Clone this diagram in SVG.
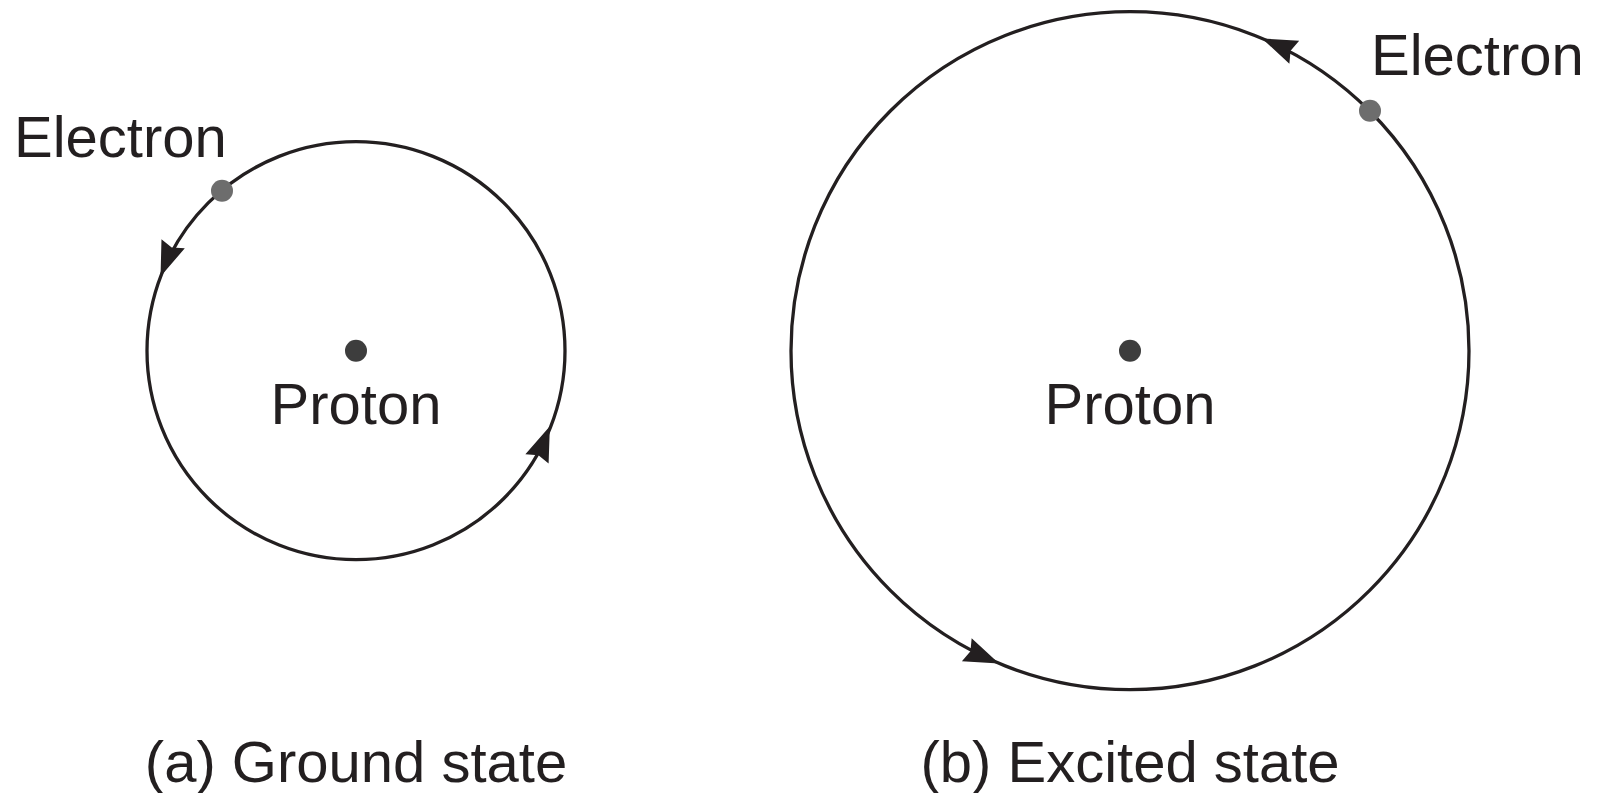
<svg xmlns="http://www.w3.org/2000/svg" xmlns:xlink="http://www.w3.org/1999/xlink" width="1598" height="793" viewBox="0 0 1598 793">
<style>
.orbit{fill:none;stroke:#231f20;stroke-width:3.3}
.lbl{font-family:"Liberation Sans",Arial,sans-serif;font-size:58px;fill:#231f20}
.mid{text-anchor:middle}
.proton{fill:#3d3d3d}
.electron{fill:#6d6d6d}
.arrow{fill:#231f20}
</style>
<defs>
<path id="ah" d="M1,0 L-34,-12.5 L-30,0 L-34,12.5 Z"/>
</defs>
<rect width="1598" height="793" fill="#ffffff"/>
<g id="ground">
<circle class="orbit" cx="356" cy="350.7" r="209"/>
<circle class="proton" cx="356" cy="350.7" r="11"/>
<text class="lbl mid" x="356" y="424">Proton</text>
<circle class="electron" cx="222" cy="190.7" r="11"/>
<text class="lbl" x="14" y="157">Electron</text>
<text class="lbl mid" x="356" y="782">(a) Ground state</text>
</g>
<g id="excited">
<circle class="orbit" cx="1130" cy="350.7" r="339"/>
<circle class="proton" cx="1130" cy="350.7" r="11"/>
<text class="lbl mid" x="1130" y="424">Proton</text>
<circle class="electron" cx="1370" cy="110.7" r="11"/>
<text class="lbl" x="1371" y="75">Electron</text>
<text class="lbl mid" x="1130" y="782">(b) Excited state</text>
</g>
<g id="connectors" class="arrow">
<use xlink:href="#ah" transform="translate(160.9,275.5) rotate(111.1)"/>
<use xlink:href="#ah" transform="translate(549.5,427.3) rotate(-68.4)"/>
<use xlink:href="#ah" transform="translate(1263,38.9) rotate(203.1)"/>
<use xlink:href="#ah" transform="translate(998.1,663) rotate(22.9)"/>
</g>
</svg>
